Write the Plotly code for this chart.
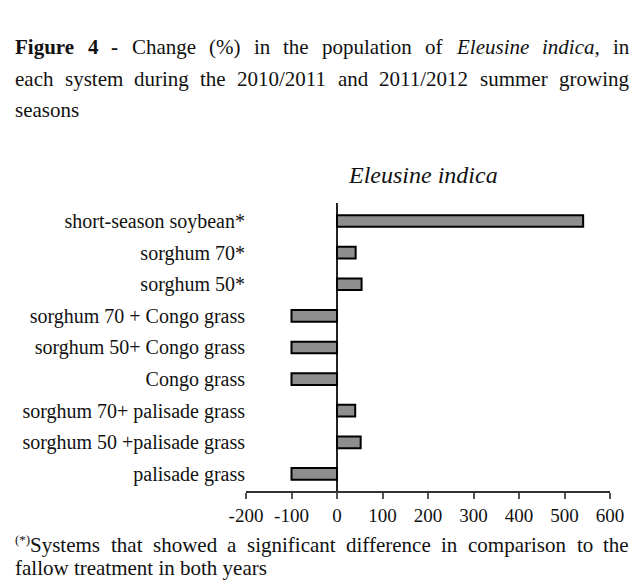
import plotly.graph_objects as go

categories = [
    "short-season soybean*",
    "sorghum 70*",
    "sorghum 50*",
    "sorghum 70 + Congo grass",
    "sorghum 50+ Congo grass",
    "Congo grass",
    "sorghum 70+ palisade grass",
    "sorghum 50 +palisade grass",
    "palisade grass",
]
change_pct = [541, 41, 54, -100, -100, -100, 40, 52, -100]

tick_vals = [-200, -100, 0, 100, 200, 300, 400, 500, 600]
tick_text = ["-200", "-100", "0", "100", "200", "300", "400", "500", "600"]

# caption words with style: r=regular, b=bold, i=italic
title_line1 = [("Figure", "b"), ("4", "b"), ("-", "b"), ("Change", "r"), ("(%)", "r"),
               ("in", "r"), ("the", "r"), ("population", "r"), ("of", "r"),
               ("Eleusine", "i"), ("indica,", "i"), ("in", "r")]
title_line2 = "each system during the 2010/2011 and 2011/2012 summer growing"
title_line3 = "seasons"
subtitle = "<i>Eleusine indica</i>"
foot_mark = "(*)"
foot_line1 = "Systems that showed a significant difference in comparison to the"
foot_line2 = "fallow treatment in both years"

FONT = "Liberation Serif"
OFF = 8  # browser body margin

# Times metrics (per 1000 em) for text justification
REG = {' ': 250, '(': 333, ')': 333, '%': 833, '*': 500, ',': 250, '-': 333, '/': 278,
       'S': 556, 'C': 667, 'E': 611, 'F': 556}
for ch in '0123456789':
    REG[ch] = 500
REG.update(dict(a=444, b=500, c=444, d=500, e=444, f=333, g=500, h=500, i=278, j=278,
                k=500, l=278, m=778, n=500, o=500, p=500, q=500, r=333, s=389, t=278,
                u=500, v=500, w=722, x=500, y=500, z=444))
BOLD = dict(REG)
BOLD.update({'F': 611, 'u': 556, 'r': 444, '-': 333, 'g': 500, 'e': 444, 'i': 278})
ITAL = dict(REG)
ITAL.update({'E': 611, 'a': 500, 'c': 444, 'd': 500, 'n': 500, 'u': 500, 's': 389})


def word_width(w, style, size):
    table = {"b": BOLD, "i": ITAL}.get(style, REG)
    return sum(table.get(c, 500) for c in w) * size / 1000.0


def px(page_x):
    return (page_x - 246) / 364.0


def py(page_y):
    return (491 - page_y) / 288.0


def txt_annot(text, x, y, size, anchor="left"):
    return dict(text=text, xref="paper", yref="paper", x=px(x), y=py(y),
                xanchor=anchor, yanchor="middle", showarrow=False, borderpad=0,
                font=dict(family=FONT, size=size, color="#111111"))


def justified(words, left, right, yy, size):
    widths = [word_width(w, s, size) for w, s in words]
    gap = (right - left - sum(widths)) / (len(words) - 1)
    out = []
    x = left
    for (w, s), wd in zip(words, widths):
        txt = w
        if s == "b":
            txt = "<b>" + w + "</b>"
        elif s == "i":
            txt = "<i>" + w.rstrip(",") + "</i>" + ("," if w.endswith(",") else "")
        out.append(txt_annot(txt, x, yy, size))
        x += wd + gap
    return out


fig = go.Figure(
    go.Bar(
        x=change_pct,
        y=categories,
        orientation="h",
        width=0.37,
        marker=dict(color="#8e8e8e", line=dict(color="#000000", width=2)),
    )
)

fig.update_layout(
    width=641,
    height=581,
    margin=dict(l=246 - OFF, r=641 - 610 + OFF, t=203 - OFF, b=581 - 491 + OFF),
    paper_bgcolor="white",
    plot_bgcolor="white",
    showlegend=False,
    font=dict(family=FONT, color="#111111", size=19),
)

fig.update_xaxes(
    range=[-200, 600],
    tickvals=tick_vals,
    ticktext=tick_text,
    showgrid=False,
    showline=True,
    linecolor="#333333",
    linewidth=2,
    ticks="outside",
    ticklen=6,
    tickwidth=2,
    tickcolor="#555555",
    zeroline=True,
    zerolinecolor="#222222",
    zerolinewidth=2,
    tickfont=dict(family=FONT, size=19, color="#111111"),
)
fig.update_yaxes(
    categoryorder="array",
    categoryarray=categories[::-1],
    range=[-0.54, 8.57],
    showgrid=False,
    showline=False,
    ticks="",
    tickfont=dict(family=FONT, size=20, color="#111111"),
)

TS = 21
annots = []
annots += justified(title_line1, 14, 628, 47, TS)
annots += justified([(w, "r") for w in title_line2.split()], 14, 628, 79, TS)
annots.append(txt_annot(title_line3, 14, 110, TS))
annots.append(txt_annot(subtitle, 423, 175, 24, anchor="center"))
# footnote: small raised marker, then justified line
annots.append(txt_annot(foot_mark, 14, 539, 13))
mark_w = word_width(foot_mark, "r", 13)
annots += justified([(w, "r") for w in foot_line1.split()], 14 + mark_w, 628, 545, TS)
annots.append(txt_annot(foot_line2, 14, 568, TS))
fig.update_layout(annotations=annots)

fig.write_html("out.html")
